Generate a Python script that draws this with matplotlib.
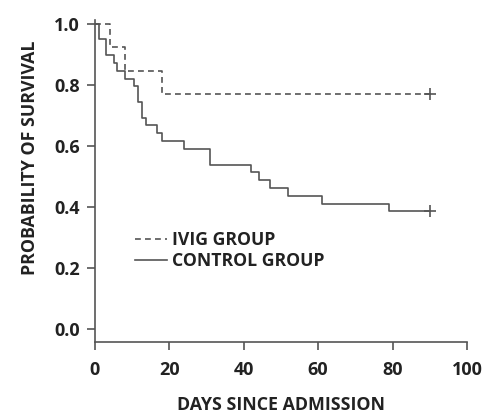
import matplotlib.pyplot as plt

# Kaplan-Meier steps
ivig_days = [0, 4, 8, 18, 90]
ivig_surv = [1.0, 0.923, 0.846, 0.769, 0.769]

control_days = [0, 1, 3, 5, 6, 8, 10.5, 11.5, 12.7, 13.7, 16.6, 18, 24, 31, 42, 44, 47, 52, 61, 79, 90]
control_surv = [1.0, 0.949, 0.897, 0.872, 0.846, 0.821, 0.795, 0.744, 0.692, 0.667, 0.641,
                0.615, 0.590, 0.538, 0.513, 0.487, 0.462, 0.436, 0.410, 0.385, 0.385]

censor_day = 90

x_ticks = [0, 20, 40, 60, 80, 100]
y_ticks = [0.0, 0.2, 0.4, 0.6, 0.8, 1.0]

plt.rcParams['font.family'] = ['Open Sans', 'DejaVu Sans']
plt.rcParams['font.weight'] = 'bold'

line_col = '#555555'
text_col = '#222222'

fig = plt.figure(figsize=(4.92, 4.16), dpi=100)
ax = fig.add_axes([0.193, 0.178, 0.756, 0.774])

ax.step(ivig_days, ivig_surv, where='post', color=line_col, lw=1.2,
        dashes=(3.5, 2.5), label='IVIG GROUP')
ax.step(control_days, control_surv, where='post', color=line_col, lw=1.2,
        label='CONTROL GROUP')
ax.plot([censor_day], [ivig_surv[-1]], marker='+', color=line_col, ms=8, mew=1.2)
ax.plot([censor_day], [control_surv[-1]], marker='+', color=line_col, ms=8, mew=1.2)

ax.set_xlim(0, 100)
ax.set_ylim(-0.043, 1.013)
ax.set_xticks(x_ticks)
ax.set_yticks(y_ticks)
ax.set_xticklabels([str(t) for t in x_ticks])
ax.set_yticklabels([f"{t:.1f}" for t in y_ticks])

for s in ['top', 'right']:
    ax.spines[s].set_visible(False)
for s in ['left', 'bottom']:
    ax.spines[s].set_color(line_col)
    ax.spines[s].set_linewidth(1.2)

ax.tick_params(direction='out', length=6, width=1.2, color=line_col,
               labelsize=13, labelcolor=text_col)
ax.tick_params(axis='x', pad=8)
ax.tick_params(axis='y', pad=5)

ax.set_xlabel('DAYS SINCE ADMISSION', fontsize=12.8, fontweight='bold',
              color=text_col, labelpad=12)
ax.set_ylabel('PROBABILITY OF SURVIVAL', fontsize=12.8, fontweight='bold',
              color=text_col)
ax.yaxis.set_label_coords(-0.151, 0.571)

leg = ax.legend(loc='upper left', bbox_to_anchor=(0.1075, 0.345), frameon=False,
                fontsize=12.7, handlelength=1.8, handletextpad=0.3,
                labelspacing=0.2, borderpad=0, borderaxespad=0)
for t in leg.get_texts():
    t.set_color(text_col)

fig.savefig('out.png', dpi=100)
